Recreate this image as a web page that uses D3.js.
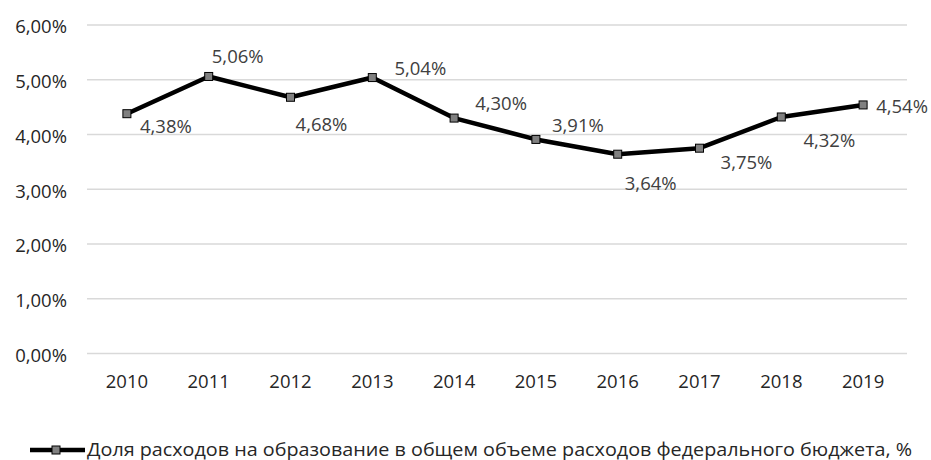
<!DOCTYPE html>
<html>
<head>
<meta charset="UTF-8">
<script src="https://cdn.jsdelivr.net/npm/d3@7/dist/d3.min.js"></script>
<style>
  body { margin: 0; background: #fff; }
  text { font-family: "Open Sans", sans-serif; }
</style>
</head>
<body>
<script>
var years = ["2010","2011","2012","2013","2014","2015","2016","2017","2018","2019"];
var shares = [4.38, 5.06, 4.68, 5.04, 4.30, 3.91, 3.64, 3.75, 4.32, 4.54];
var yTicks = [0, 1, 2, 3, 4, 5, 6];
var seriesName = "Доля расходов на образование в общем объеме расходов федерального бюджета, %";

var fmt = function(v){ return v.toFixed(2).replace(".", ",") + "%"; };

var svg = d3.select("body").append("svg")
    .attr("width", 931).attr("height", 460);

var x = d3.scaleBand().domain(years).range([86, 904]);
var y = d3.scaleLinear().domain([0, 6]).range([353.5, 25]);

// сетка
svg.append("g").selectAll("line").data(yTicks).enter().append("line")
    .attr("x1", 87).attr("x2", 907)
    .attr("y1", function(d){ return y(d); }).attr("y2", function(d){ return y(d); })
    .attr("stroke", "#d9d9d9").attr("stroke-width", 1.3);

var yAxis = d3.axisLeft(y).tickValues(yTicks).tickSize(0).tickPadding(0)
    .tickFormat(function(d){ return fmt(d); });
var gy = svg.append("g").attr("transform", "translate(67,2)").call(yAxis);
gy.select(".domain").remove();
gy.selectAll("text").attr("font-size", "18.5px").attr("fill", "#262626")
    .attr("font-family", "'Open Sans', sans-serif");

var xAxis = d3.axisBottom(x).tickSize(0).tickPadding(0);
var gx = svg.append("g").attr("transform", "translate(0,375)").call(xAxis);
gx.select(".domain").remove();
gx.selectAll("text").attr("font-size", "18.5px").attr("fill", "#262626")
    .attr("font-family", "'Open Sans', sans-serif");

var cx = function(d, i){ return x(years[i]) + x.bandwidth() / 2; };

var line = d3.line().x(cx).y(function(d){ return y(d); });
svg.append("path").datum(shares)
    .attr("d", line).attr("fill", "none")
    .attr("stroke", "#000").attr("stroke-width", 4.5)
    .attr("stroke-linejoin", "round");

svg.append("g").selectAll("rect").data(shares).enter().append("rect")
    .attr("x", function(d, i){ return cx(d, i) - 4; })
    .attr("y", function(d){ return y(d) - 4; })
    .attr("width", 8).attr("height", 8)
    .attr("fill", "#808080").attr("stroke", "#000").attr("stroke-width", 1);

// подписи данных (смещения центра от точки)
var ldx = [39, 29, 31, 48, 47, 42, 33, 47, 48, 39];
var ldy = [13, -20, 27, -9, -15, -14, 29, 14, 24, 2];
svg.append("g").selectAll("text").data(shares).enter().append("text")
    .attr("x", function(d, i){ return cx(d, i) + ldx[i]; })
    .attr("y", function(d, i){ return y(d) + ldy[i]; })
    .attr("dy", "0.35em")
    .attr("text-anchor", "middle")
    .attr("font-size", "18.5px").attr("fill", "#404040")
    .text(function(d){ return fmt(d); });

// легенда
var lg = svg.append("g").attr("transform", "translate(0,450)");
lg.append("line").attr("x1", 30).attr("x2", 85).attr("y1", 0).attr("y2", 0)
    .attr("stroke", "#000").attr("stroke-width", 4.5);
lg.append("rect").attr("x", 52).attr("y", -4).attr("width", 8).attr("height", 8)
    .attr("fill", "#808080").attr("stroke", "#000");
lg.append("text").attr("x", 87).attr("y", 6)
    .attr("font-size", "17.5px").attr("fill", "#262626")
    .attr("textLength", 825).attr("lengthAdjust", "spacingAndGlyphs")
    .text(seriesName);
</script>
</body>
</html>
